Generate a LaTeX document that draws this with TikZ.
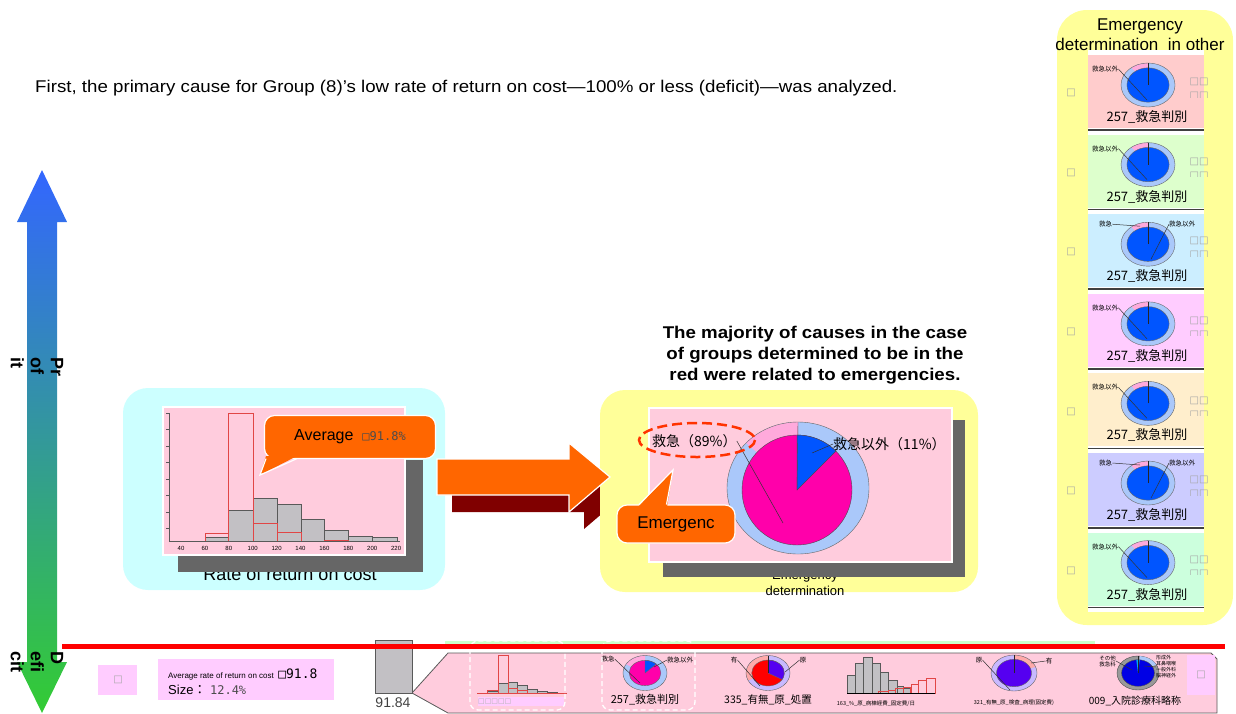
\documentclass[tikz,border=0pt]{standalone}
\usepackage{fontspec}
\setmainfont{Liberation Sans}
\newfontfamily\cjk{Noto Sans CJK JP}
\newfontfamily\digits{DejaVu Sans Mono}
\newfontfamily\boxfont{DejaVu Sans}
\usetikzlibrary{positioning}

\definecolor{arrowblue}{RGB}{51,102,255}
\definecolor{arrowgreen}{RGB}{51,204,51}
\definecolor{cyanbox}{RGB}{204,255,255}
\definecolor{yellowbox}{RGB}{255,255,153}
\definecolor{chartpink}{RGB}{255,204,221}
\definecolor{bargray}{RGB}{194,192,196}
\definecolor{histred}{RGB}{225,70,70}
\definecolor{calloutorange}{RGB}{255,102,0}
\definecolor{shadowred}{RGB}{128,0,0}
\definecolor{ringblue}{RGB}{170,200,250}
\definecolor{ringpink}{RGB}{255,170,220}
\definecolor{ringrose}{RGB}{255,170,170}
\definecolor{ringlilac}{RGB}{200,185,255}
\definecolor{piemagenta}{RGB}{255,0,170}
\definecolor{pieblue}{RGB}{0,85,255}
\definecolor{piered}{RGB}{255,0,0}
\definecolor{piepurple}{RGB}{85,0,240}
\definecolor{dashred}{RGB}{255,51,0}
\definecolor{boxpink}{RGB}{255,204,255}
\definecolor{stripgreen}{RGB}{204,255,204}
\definecolor{panelA}{RGB}{255,204,204}
\definecolor{panelB}{RGB}{221,255,204}
\definecolor{panelC}{RGB}{204,238,255}
\definecolor{panelD}{RGB}{255,204,255}
\definecolor{panelE}{RGB}{255,238,204}
\definecolor{panelF}{RGB}{204,204,255}
\definecolor{panelG}{RGB}{204,255,221}

\tikzset{
  every node/.style={inner sep=0pt},
  bar/.style={fill=bargray, draw=black!65, line width=0.6pt},
  redbar/.style={draw=histred, line width=1pt},
  chart/.style={fill=chartpink, draw=white, line width=1.2pt},
  shadowbox/.style={fill=black!60},
  leader/.style={draw=black!80, line width=0.5pt},
  tinyjp/.style={font=\cjk\fontsize{6.5}{7}\selectfont},
  capjp/.style={font=\cjk\fontsize{13}{15}\selectfont},
  graymark/.style={font=\boxfont\fontsize{10}{12}\selectfont, text=black!35}
}

\begin{document}
\begin{tikzpicture}[x=1pt, y=-1pt]
\useasboundingbox (0,0) rectangle (1236,713);

\node[anchor=west, xscale=1.1, font=\fontsize{17}{20}\selectfont] (intro) at (35,88) {First, the primary cause for Group (8)’s low rate of return on cost—100\% or less (deficit)—was analyzed.};

% profit / deficit axis
\shade[top color=arrowblue, bottom color=arrowgreen] (42,170) -- (67,222) -- (57,222) -- (57,662) -- (67,662) -- (42,713) -- (17,662) -- (27,662) -- (27,222) -- (17,222) -- cycle;
\node[rotate=-90, align=left, font=\bfseries\fontsize{18}{20}\selectfont] (profit) at (37,367) {Pr\\of\\it};
\node[rotate=-90, align=left, font=\bfseries\fontsize{18}{20}\selectfont] (deficit) at (37,662) {D\\efi\\cit};

% left histogram
\fill[cyanbox, rounded corners=25pt] (123,388) rectangle (445,590);
\node[font=\fontsize{18}{20}\selectfont] (rateCap) at (290,574) {Rate of return on cost};
\fill[shadowbox] (178,460) rectangle (423,572);
\filldraw[chart] (163,407) rectangle (405,555);
\foreach \a/\b/\t in {205/228/537, 228/253/510, 253/277/498, 277/301/504, 301/324/519, 324/348/530, 348/372/536, 372/397/537}
  \filldraw[bar] (\a,\t) rectangle (\b,541);
\foreach \a/\b/\t in {205/228/533, 228/253/413, 253/277/523, 277/301/532, 324/348/540}
  \draw[redbar] (\a,\t) rectangle (\b,541);
\draw[black!65, line width=0.6pt] (169,413) -- (169,541) -- (400,541);
\foreach \k in {0,...,7}
  \draw[black!65, line width=0.6pt] (166,413+16.5*\k) -- (169,413+16.5*\k);
\foreach \v [count=\k from 0] in {40,60,80,100,120,140,160,180,200,220}
  \node[font=\fontsize{6}{7}\selectfont] (tick\k) at (181+23.9*\k,548) {\v};

\node[fill=calloutorange, draw=white, line width=1.2pt, rounded corners=10pt, minimum width=171pt, minimum height=43pt, font=\fontsize{16}{18}\selectfont] (avg) at (350,437) {Average \ {\digits\fontsize{12}{14}\selectfont\color{black!70}□91.8\%}};
\fill[calloutorange] (266,456) -- (260,475) -- (297,456) -- cycle;
\draw[white, line width=1.2pt] (266,458.6) -- (260,475) -- (297,458.6);

% big arrow
\fill[shadowred, shift={(15,17)}] (437,459) -- (569,459) -- (569,443) -- (610,477) -- (569,512) -- (569,495) -- (437,495) -- cycle;

% emergency pie
\fill[yellowbox, rounded corners=25pt] (600,390) rectangle (978,592);
\fill[calloutorange, draw=white, line width=1.2pt] (437,459) -- (569,459) -- (569,443) -- (610,477) -- (569,512) -- (569,495) -- (437,495) -- cycle;
\node[align=center, xscale=1.1, font=\bfseries\fontsize{17}{21}\selectfont] (majority) at (815,355) {The majority of causes in the case\\of groups determined to be in the\\red were related to emergencies.};
\node[align=center, font=\fontsize{13}{16}\selectfont] (emCap) at (805,583) {Emergency\\determination};
\fill[shadowbox] (663,420) rectangle (965,577);
\filldraw[chart] (649,408) rectangle (952,562);
\begin{scope}[shift={(798,488)}, x=71pt, y=66pt]
  \fill[ringblue] (0,0) circle[radius=1];
  \fill[ringpink] (0,0) -- (90:1) arc[start angle=90, end angle=137, radius=1] -- cycle;
  \draw[black!60] (0,0) circle[radius=1];
\end{scope}
\begin{scope}[shift={(797,490)}, x=55pt, y=55pt]
  \filldraw[fill=piemagenta, draw=black!70] (0,0) circle[radius=1];
  \filldraw[fill=pieblue, draw=black!70] (0,0) -- (45:1) arc[start angle=45, end angle=90, radius=1] -- cycle;
\end{scope}
\draw[black!70] (797,490) -- (798,422);
\node[anchor=west, font=\cjk\fontsize{14}{16}\selectfont] (kyu) at (652,441) {救急（89\%）};
\node[anchor=west, font=\cjk\fontsize{14}{16}\selectfont] (igai) at (833,444) {救急以外（11\%）};
\coordinate (kyuEnd) at (783,523);
\coordinate (igaiEnd) at (812,453);
\draw[leader] (kyu.east) -- (kyuEnd);
\draw[leader] (igai.west) -- (igaiEnd);
\draw[dashred, line width=2.5pt, dash pattern=on 10pt off 5pt] (697,440) ellipse[x radius=58, y radius=17];

\node[fill=calloutorange, draw=white, line width=1.2pt, rounded corners=10pt, minimum width=118pt, minimum height=38pt, font=\fontsize{17}{19}\selectfont] (emerg) at (676,524) {Emergenc};
\fill[calloutorange] (638,507) -- (673,470) -- (667,507) -- cycle;
\draw[white, line width=1.2pt] (639,504.5) -- (673,470) -- (666.5,504.5);

% other groups
\fill[yellowbox, rounded corners=30pt] (1057,10) rectangle (1233,625);
\node[align=center, font=\fontsize{17}{20}\selectfont] (otherTitle) at (1140,35) {Emergency\\determination\ \ in other};
\fill[white] (1088,50) rectangle (1204,612);
\foreach \i/\col/\kind in {0/panelA/0, 1/panelB/0, 2/panelC/1, 3/panelD/0, 4/panelE/0, 5/panelF/1, 6/panelG/0} {
  \pgfmathsetmacro{\ty}{55+79.6*\i}
  \fill[\col] (1088,\ty) rectangle (1204,\ty+73);
  \draw[black!75, line width=1.5pt] (1088,\ty+75) -- (1204,\ty+75);
  \begin{scope}[shift={(1148,\ty+30)}, x=27pt, y=22pt]
    \fill[ringblue] (0,0) circle[radius=1];
    \fill[ringpink] (0,0) -- (90:1) arc[start angle=90, end angle=128, radius=1] -- cycle;
    \draw[black!60] (0,0) circle[radius=1];
    \filldraw[fill=pieblue, draw=black!60] (0,0) circle[radius=0.78];
    \draw[black!85] (0,0) -- (90:1);
  \end{scope}
  \ifnum\kind=0
    \node[tinyjp, anchor=west] (lbl\i) at (1092,\ty+14) {救急以外};
    \coordinate (end\i) at (1147,\ty+45);
    \draw[leader] (lbl\i.east) -- (end\i);
  \else
    \node[tinyjp, anchor=west] (lbl\i) at (1099,\ty+10) {救急};
    \coordinate (end\i) at (1140,\ty+12);
    \draw[leader] (lbl\i.east) -- (end\i);
    \node[tinyjp, anchor=west] (rgt\i) at (1169,\ty+10) {救急以外};
    \coordinate (mid\i) at (1151,\ty+45);
    \draw[leader] (rgt\i.west) -- (mid\i);
  \fi
  \node[capjp] (cap\i) at (1147,\ty+62) {257\_救急判別};
  \node[graymark] (mark\i) at (1071,\ty+38) {□};
  \node[graymark] (cells\i) at (1199,\ty+27) {□□};
  \begin{scope}
    \clip (1185,\ty+36) rectangle (1215,\ty+42);
    \node[graymark] (cellsb\i) at (1199,\ty+41) {□□};
  \end{scope}
}

% summary row
\fill[stripgreen] (445,641) rectangle (1095,646);
\filldraw[fill=chartpink, draw=black!65, line width=0.8pt] (448,653) -- (1211,653) -- (1217,659) -- (1217,713) -- (448,713) -- (412,693) -- cycle;
\filldraw[fill=bargray, draw=black!65, line width=0.8pt] (375,640) rectangle (412,693);
\node[font=\fontsize{14}{16}\selectfont, text=black!75] (grayVal) at (393,703) {91.84};
\fill[boxpink] (98,665) rectangle (137,695);
\node[graymark] (markL) at (118,680) {□};
\fill[boxpink] (158,659) rectangle (334,700);
\node[anchor=west, font=\fontsize{8}{9}\selectfont] (avgLbl) at (168,674) {Average rate of return on cost \ {\digits\fontsize{13}{14}\selectfont □91.8}};
\node[anchor=west, font=\fontsize{13}{15}\selectfont] (sizeLbl) at (168,690) {Size{\cjk ：} {\digits\fontsize{12}{14}\selectfont\color{black!70}12.4\%}};

% mini histogram 1
\fill[boxpink] (478,697) rectangle (564,706);
\node[anchor=west, font=\boxfont\fontsize{7}{8}\selectfont, text=black!30] (miniMarks) at (478,701.5) {□□□□□};
\foreach \a/\b/\t in {487/498/691, 498/508/683, 508/517/682, 517/527/685, 527/537/689, 537/547/691, 547/557/692}
  \filldraw[bar] (\a,\t) rectangle (\b,693);
\foreach \a/\b/\t in {487/498/690, 498/508/655, 508/517/688, 517/527/690}
  \draw[redbar] (\a,\t) rectangle (\b,693);
\draw[histred, line width=1pt] (477,693) -- (567,693);

% mini pie 1
\begin{scope}[shift={(645,673)}, x=22pt, y=17.5pt]
  \fill[ringblue] (0,0) circle[radius=1];
  \fill[ringpink] (0,0) -- (90:1) arc[start angle=90, end angle=150, radius=1] -- cycle;
  \draw[black!60] (0,0) circle[radius=1];
  \filldraw[fill=piemagenta, draw=black!60] (0,0) circle[radius=0.72];
  \filldraw[fill=pieblue, draw=black!60] (0,0) -- (45:0.72) arc[start angle=45, end angle=90, radius=0.72] -- cycle;
\end{scope}
\node[tinyjp] (aKyu) at (608,659) {救急};
\node[tinyjp, anchor=west] (aIgai) at (667,660) {救急以外};
\coordinate (aKyuEnd) at (640,683);
\coordinate (aIgaiEnd) at (654,667);
\draw[leader] (aKyu.east) -- (aKyuEnd);
\draw[leader] (aIgai.west) -- (aIgaiEnd);
\node[font=\cjk\fontsize{11}{13}\selectfont] (aCap) at (645,700) {257\_救急判別};

% mini pie 2
\begin{scope}[shift={(768,673)}, x=22pt, y=17.5pt]
  \fill[ringlilac] (0,0) circle[radius=1];
  \fill[ringrose] (0,0) -- (90:1) arc[start angle=90, end angle=205, radius=1] -- cycle;
  \draw[black!60] (0,0) circle[radius=1];
  \filldraw[fill=piered, draw=black!60] (0,0) circle[radius=0.74];
  \filldraw[fill=piepurple, draw=black!60] (0,0) -- (-30:0.74) arc[start angle=-30, end angle=90, radius=0.74] -- cycle;
  \draw[black!85] (0,0) -- (90:1);
\end{scope}
\node[tinyjp] (bAri) at (734,660) {有};
\node[tinyjp] (bGen) at (803,660) {原};
\coordinate (bAriEnd) at (760,686);
\coordinate (bGenEnd) at (785,672);
\draw[leader] (bAri.east) -- (bAriEnd);
\draw[leader] (bGen.west) -- (bGenEnd);
\node[font=\cjk\fontsize{10.5}{12}\selectfont] (bCap) at (768,700) {335\_有無\_原\_処置};

% mini histogram 2
\foreach \a/\b/\t in {847/855/675, 855/863/663, 863/872/657, 872/880/663, 880/888/672, 888/897/680, 897/903/686, 903/910/688}
  \filldraw[bar] (\a,\t) rectangle (\b,693);
\foreach \a/\b/\t in {878/888/691, 888/895/690, 895/903/688, 903/910/687, 911/918/684, 918/926/680, 926/935/678}
  \draw[redbar] (\a,\t) rectangle (\b,693);
\draw[black, line width=1pt] (847,693) -- (935,693);
\node[font=\cjk\fontsize{5.5}{6}\selectfont] (cCap) at (876,704) {163\_\%\_原\_病棟経費\_固定費/日};

% mini pie 3
\begin{scope}[shift={(1014,673)}, x=23pt, y=18pt]
  \fill[ringlilac] (0,0) circle[radius=1];
  \fill[ringrose] (0,0) -- (20:1) arc[start angle=20, end angle=90, radius=1] -- cycle;
  \draw[black!60] (0,0) circle[radius=1];
  \filldraw[fill=piepurple, draw=black!60] (0,0) circle[radius=0.76];
  \draw[black!85] (0,0) -- (90:1);
\end{scope}
\node[tinyjp] (dGen) at (979,660) {原};
\node[tinyjp] (dAri) at (1049,661) {有};
\coordinate (dGenEnd) at (1010,690);
\coordinate (dAriEnd) at (1031,663);
\draw[leader] (dGen.east) -- (dGenEnd);
\draw[leader] (dAri.west) -- (dAriEnd);
\node[font=\cjk\fontsize{5.5}{6}\selectfont] (dCap) at (1014,703) {321\_有無\_原\_検査\_病理(固定費)};

% mini pie 4
\begin{scope}[shift={(1138,673)}, x=21pt, y=17pt]
  \filldraw[fill=black!40, draw=black!70] (0,0) circle[radius=1];
  \fill[ringblue] (0,0) -- (30:1) arc[start angle=30, end angle=85, radius=1] -- cycle;
  \filldraw[fill=blue!90!black, draw=black!70] (0,0) circle[radius=0.78];
  \fill[cyan] (0,0) -- (84:0.78) arc[start angle=84, end angle=96, radius=0.78] -- cycle;
  \draw[black!85] (0,0) -- (90:1);
\end{scope}
\node[tinyjp, align=right, anchor=east, font=\cjk\fontsize{5.5}{6}\selectfont] (eLeft) at (1116,661) {その他\\救急科};
\node[tinyjp, align=left, anchor=west, font=\cjk\fontsize{5}{6}\selectfont] (eRight) at (1156,667) {形成外\\耳鼻咽喉\\一般外科\\脳神経外};
\coordinate (eLeftEnd) at (1132,670);
\coordinate (eRightEnd) at (1144,666);
\draw[leader] (eLeft.east) -- (eLeftEnd);
\draw[leader] (eRight.west) -- (eRightEnd);
\node[font=\cjk\fontsize{10}{12}\selectfont] (eCap) at (1135,701) {009\_入院診療科略称};
\fill[boxpink] (1187,655) rectangle (1215,695);
\node[graymark] (markR) at (1201,675) {□};

\draw[white, line width=1.3pt, dash pattern=on 5pt off 3pt, rounded corners=8pt] (470,641) rectangle (565,710);
\draw[white, line width=1.3pt, dash pattern=on 5pt off 3pt, rounded corners=8pt] (602,641) rectangle (695,710);
\draw[red, line width=5pt] (62,646) -- (1225,646);
\end{tikzpicture}
\end{document}
